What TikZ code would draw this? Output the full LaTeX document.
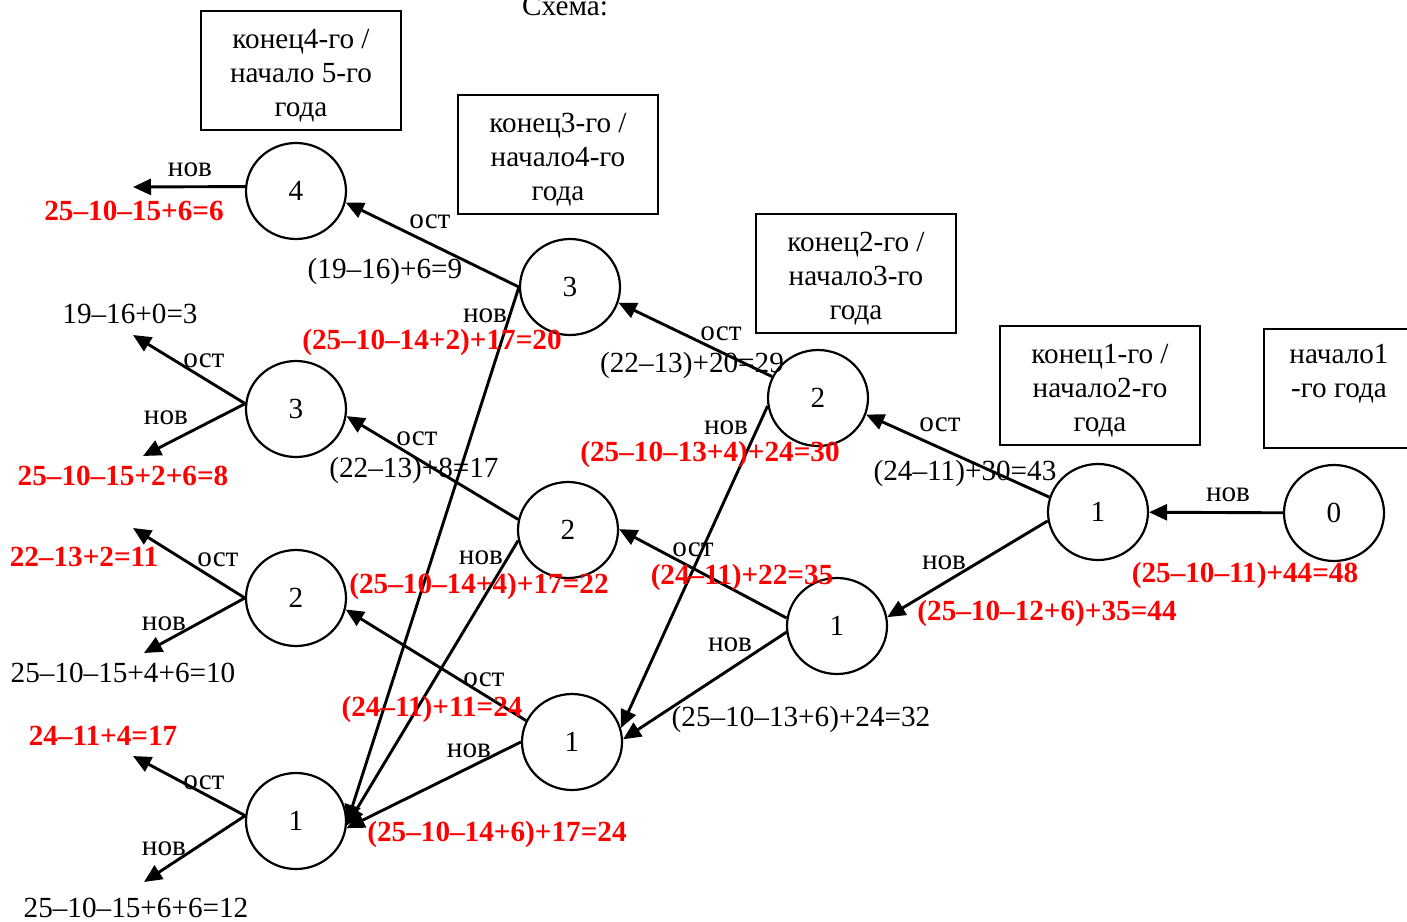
\documentclass[tikz,border=0pt]{standalone}
\usepackage{fontspec}
\setmainfont{Liberation Serif}
\usetikzlibrary{positioning, arrows.meta, shapes.geometric}

\newcommand{\ystrut}{\rule{0pt}{15pt}}

\begin{document}
\begin{tikzpicture}[
		x=0.5pt, y=-0.5pt,
		every node/.style={font=\fontsize{14.6}{17}\selectfont, inner sep=0pt},
		state/.style={draw, ellipse, line width=1.1pt, minimum width=50pt, minimum height=48pt},
		period/.style={draw, rectangle, line width=1pt, align=center, minimum width=100pt, minimum height=59.5pt},
		lbl/.style={anchor=base},
		val/.style={anchor=base, text=red, font=\fontsize{14.6}{17}\selectfont\bfseries},
		arrow/.style={-{Triangle[length=9pt, width=8pt]}, line width=1.45pt}
	]
	\useasboundingbox (0,0) rectangle (1407,921);

	% Title and years
	\node[lbl] (title) at (565,16) {Схема:};
	\node[period] (yr5) at (301,70) {\ystrut конец4-го /\\начало 5-го\\года};
	\node[period] (yr4) at (558,154) {\ystrut конец3-го /\\начало4-го\\года};
	\node[period] (yr3) at (856,273) {\ystrut конец2-го /\\начало3-го\\года};
	\node[period] (yr2) at (1100,385) {\ystrut конец1-го /\\начало2-го\\года};
	\node[period, minimum width=75pt] (yr1) at (1339,388) {\ystrut начало1\\-го года\\\strut};

	% Nodes
	\node[state] (y1n0) at (1334,513) {0};
	\node[state] (y2n1) at (1098,512) {1};
	\node[state] (y3n2) at (818,398) {2};
	\node[state] (y3n1) at (837,626) {1};
	\node[state] (y4n3) at (570,287) {3};
	\node[state] (y4n2) at (568,530) {2};
	\node[state] (y4n1) at (572,742) {1};
	\node[state] (y5n4) at (296,191) {4};
	\node[state] (y5n3) at (296,409) {3};
	\node[state] (y5n2) at (296,598) {2};
	\node[state] (y5n1) at (296,821) {1};

	% Free ends
	\coordinate (o4n) at (133,187);
	\coordinate (o3o) at (133,335);
	\coordinate (o3n) at (143,456);
	\coordinate (o2o) at (133,528);
	\coordinate (o2n) at (144,653);
	\coordinate (o1o) at (133,756);
	\coordinate (o1n) at (144,882);

	% Connections
	\draw[arrow] (y1n0) -- (y2n1);
	\draw[arrow] (y2n1.163) -- (y3n2.-19);
	\draw[arrow] (y2n1.190) -- (y3n1.10);

	\draw[arrow] (y3n2.155) -- (y4n3.-18);
	\draw[arrow] (y3n2.189) -- (y4n1.16);
	\draw[arrow] (y3n1.171) -- (y4n2.1);
	\draw[arrow] (y3n1.187) -- (y4n1.3);

	\draw[arrow] (y4n3.180) -- (y5n4.-13);
	\draw[arrow] (y4n3.180) -- (y5n1.-2);
	\draw[arrow] (y4n2.168) -- (y5n3.-8);
	\draw[arrow] (y4n2.192) -- (y5n1.-5);
	\draw[arrow] (y4n1.155) -- (y5n2.-13);
	\draw[arrow] (y4n1.180) -- (y5n1.-8);

	\draw[arrow] (y5n4.175) -- (o4n);
	\draw[arrow] (y5n3.174) -- (o3o);
	\draw[arrow] (y5n3.174) -- (o3n);
	\draw[arrow] (y5n2.180) -- (o2o);
	\draw[arrow] (y5n2.180) -- (o2n);
	\draw[arrow] (y5n1.174) -- (o1o);
	\draw[arrow] (y5n1.174) -- (o1n);

	% Labels, year 1 -> 2
	\node[lbl] (t01) at (1228,501) {нов};
	\node[val] (v01) at (1245,582) {(25–10–11)+44=48};

	% Labels, year 2 -> 3
	\node[lbl] (t12o) at (940,431) {ост};
	\node[lbl] (v12o) at (965,480) {(24–11)+30=43};
	\node[lbl] (t12n) at (944,569) {нов};
	\node[val] (v12n) at (1047,620) {(25–10–12+6)+35=44};

	% Labels, year 3 -> 4
	\node[lbl] (t23o) at (721,340) {ост};
	\node[lbl] (v23o) at (692,372) {(22–13)+20=29};
	\node[lbl] (t23n) at (726,434) {нов};
	\node[val] (v23n) at (710,461) {(25–10–13+4)+24=30};
	\node[lbl] (t13o) at (693,556) {ост};
	\node[val] (v13o) at (742,584) {(24–11)+22=35};
	\node[lbl] (t13n) at (730,651) {нов};
	\node[lbl] (v13n) at (801,726) {(25–10–13+6)+24=32};

	% Labels, year 4 -> 5
	\node[lbl] (t34o) at (430,228) {ост};
	\node[lbl] (v34o) at (385,278) {(19–16)+6=9};
	\node[lbl] (t34n) at (485,322) {нов};
	\node[val] (v34n) at (432,349) {(25–10–14+2)+17=20};
	\node[lbl] (t24o) at (417,445) {ост};
	\node[lbl] (v24o) at (414,477) {(22–13)+8=17};
	\node[lbl] (t24n) at (481,564) {нов};
	\node[val] (v24n) at (479,593) {(25–10–14+4)+17=22};
	\node[lbl] (t14o) at (484,686) {ост};
	\node[val] (v14o) at (432,716) {(24–11)+11=24};
	\node[lbl] (t14n) at (469,757) {нов};
	\node[val] (v14n) at (497,841) {(25–10–14+6)+17=24};

	% Labels, end of year 5
	\node[lbl] (t4n) at (190,176) {нов};
	\node[val] (v4n) at (134,220) {25–10–15+6=6};
	\node[lbl] (v3o) at (130,323) {19–16+0=3};
	\node[lbl] (t3o) at (204,367) {ост};
	\node[lbl] (t3n) at (166,424) {нов};
	\node[val] (v3n) at (123,485) {25–10–15+2+6=8};
	\node[val] (v2o) at (84,566) {22–13+2=11};
	\node[lbl] (t2o) at (218,566) {ост};
	\node[lbl] (t2n) at (164,630) {нов};
	\node[lbl] (v2n) at (123,682) {25–10–15+4+6=10};
	\node[val] (v1o) at (103,745) {24–11+4=17};
	\node[lbl] (t1o) at (204,789) {ост};
	\node[lbl] (t1n) at (164,855) {нов};
	\node[lbl] (v1n) at (136,917) {25–10–15+6+6=12};

\end{tikzpicture}
\end{document}
